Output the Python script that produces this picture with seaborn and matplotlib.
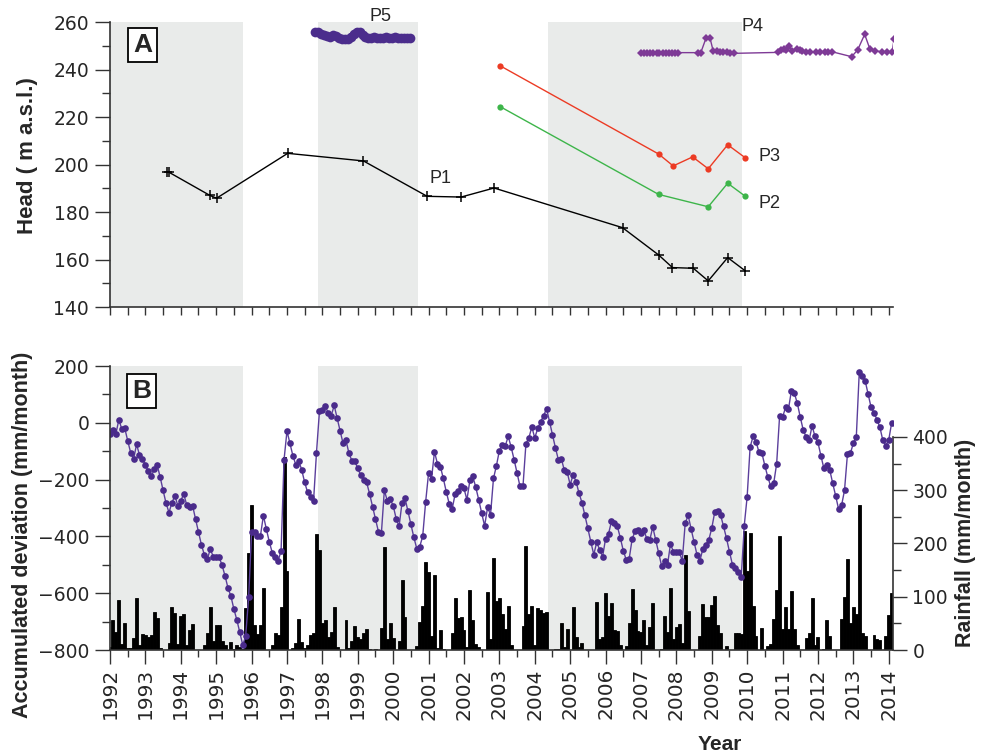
import numpy as np
import pandas as pd
import matplotlib
matplotlib.use("Agg")
import matplotlib.pyplot as plt
import seaborn as sns
from matplotlib.ticker import MultipleLocator, FixedLocator

sns.set_theme(style="white")
plt.rcParams['font.family'] = ['Liberation Sans', 'DejaVu Sans']

# ---------------- data ----------------
dry_periods = [(1992.0, 1995.76), (1997.88, 2000.70), (2004.37, 2009.85)]

p1_year = [1993.60, 1993.67, 1994.82, 1995.01, 1997.02, 1999.16, 2000.96, 2001.92,
           2002.85, 2006.48, 2007.50, 2007.89, 2008.48, 2008.90, 2009.45, 2009.94]
p1_head = [196.7, 196.7, 187.0, 185.8, 204.7, 201.5, 186.6, 186.3,
           190.1, 173.4, 161.9, 156.6, 156.3, 151.0, 160.8, 155.3]

p2_year = [2003.03, 2007.50, 2008.90, 2009.45, 2009.94]
p2_head = [224.3, 187.4, 182.2, 192.1, 186.7]

p3_year = [2003.03, 2007.50, 2007.91, 2008.46, 2008.90, 2009.45, 2009.94]
p3_head = [241.5, 204.4, 199.4, 203.2, 198.2, 208.3, 202.9]

p4_year = [2007.00, 2007.09, 2007.17, 2007.26, 2007.35, 2007.44, 2007.52, 2007.61,
           2007.70, 2007.79, 2007.87, 2007.96, 2008.05, 2008.62, 2008.69, 2008.84,
           2008.95, 2009.04, 2009.14, 2009.23, 2009.32, 2009.42, 2009.51, 2009.63,
           2010.86, 2010.97, 2011.04, 2011.11, 2011.19, 2011.27, 2011.42, 2011.49,
           2011.56, 2011.66, 2011.77, 2011.94, 2012.06, 2012.20, 2012.29, 2012.39,
           2012.95, 2013.12, 2013.32, 2013.47, 2013.61, 2013.80, 2013.96, 2014.10,
           2014.15]
p4_head = [247.1, 247.1, 247.1, 247.1, 247.1, 247.1, 247.1, 247.1,
           247.1, 247.1, 247.1, 247.1, 247.1, 247.1, 247.1, 253.3,
           253.3, 247.8, 247.8, 247.5, 247.2, 247.2, 247.1, 246.8,
           247.2, 248.2, 248.5, 248.2, 249.9, 247.8, 248.8, 248.2,
           247.8, 247.5, 247.5, 247.5, 247.5, 247.5, 247.5, 247.5,
           245.4, 248.2, 254.8, 248.5, 247.8, 247.5, 247.5, 247.5,
           252.8]

p5_head = [255.8, 255.6, 255.0, 254.4, 254.0, 253.8, 254.4, 254.2, 253.4, 253.0,
           252.8, 252.8, 253.8, 255.0, 256.0, 255.8, 254.4, 253.6, 253.4, 253.3,
           253.5, 253.4, 253.2, 253.4, 253.5, 253.3, 253.4, 253.5, 253.3, 253.4,
           253.3, 253.4, 253.4]
p5_start = 1997.80

acc_start = 1992.0
acc_dev = [-39, -27, -39, 11, -22, -19, -63, -105, -128, -76,
           -113, -128, -148, -171, -189, -163, -149, -191, -238, -283,
           -316, -281, -257, -292, -274, -251, -289, -295, -292, -339,
           -384, -430, -465, -480, -445, -471, -471, -473, -502, -539,
           -582, -611, -656, -694, -738, -782, -750, -614, -386, -385,
           -398, -398, -327, -374, -419, -457, -471, -486, -451, -130,
           -29, -72, -116, -148, -135, -166, -210, -245, -262, -276,
           -105, 40, 46, 58, 34, 25, 61, 16, -28, -72,
           -62, -107, -134, -136, -160, -185, -201, -210, -250, -295,
           -339, -383, -389, -238, -274, -269, -292, -337, -365, -281,
           -265, -311, -357, -403, -443, -436, -400, -279, -177, -197,
           -102, -144, -154, -196, -243, -285, -303, -251, -239, -224,
           -231, -271, -203, -189, -227, -271, -318, -363, -298, -324,
           -196, -151, -98, -79, -81, -48, -86, -130, -177, -224,
           -224, -74, -53, -15, -53, -20, 4, 25, 50, 4,
           -43, -88, -130, -127, -166, -174, -218, -183, -207, -248,
           -281, -326, -372, -419, -464, -421, -447, -471, -408, -391,
           -347, -353, -365, -405, -450, -482, -479, -410, -381, -377,
           -389, -377, -410, -412, -367, -413, -459, -504, -487, -500,
           -427, -454, -455, -455, -486, -353, -326, -374, -419, -465,
           -485, -443, -430, -412, -371, -315, -312, -325, -365, -407,
           -454, -499, -513, -525, -543, -363, -260, -86, -48, -66,
           -103, -107, -151, -191, -224, -213, -144, 25, 19, 54,
           48, 113, 104, 69, 20, -25, -50, -62, -11, -48,
           -69, -116, -160, -148, -166, -213, -257, -304, -291, -238,
           -110, -107, -72, -50, 178, 166, 148, 101, 55, 36,
           11, -16, -62, -80, -60, 1]

rainfall = [6, 56, 34, 93, 12, 51, 3, 4, 22, 98,
            9, 30, 28, 25, 28, 71, 60, 3, 0, 0,
            14, 81, 69, 11, 64, 67, 9, 37, 49, 0,
            0, 0, 9, 32, 81, 17, 46, 46, 17, 9,
            0, 15, 1, 9, 6, 1, 78, 182, 272, 47,
            30, 46, 116, 0, 0, 9, 32, 28, 81, 363,
            148, 0, 3, 14, 59, 15, 3, 9, 29, 32,
            217, 188, 51, 57, 24, 34, 81, 6, 0, 0,
            56, 4, 16, 45, 24, 21, 31, 39, 2, 0,
            2, 0, 41, 194, 21, 50, 22, 0, 17, 131,
            61, 0, 0, 0, 7, 53, 82, 166, 146, 26,
            140, 3, 37, 2, 0, 0, 31, 97, 60, 61,
            37, 5, 112, 57, 11, 6, 0, 0, 108, 21,
            172, 92, 97, 67, 40, 82, 9,
            0, 0, 0, 45, 195, 67, 82, 9, 79, 75,
            70, 71, 0, 0, 1, 2, 51, 6, 39, 0,
            81, 24, 6, 14, 0, 0, 0, 0, 90, 20,
            24, 107, 64, 88, 37, 36, 9, 0, 7, 50,
            115, 75, 36, 33, 56, 9, 44, 88, 0, 0,
            1, 64, 34, 117, 20, 44, 49, 14, 178, 73,
            0, 0, 0, 26, 87, 61, 62, 85, 102, 47,
            31, 0, 7, 0, 0, 31, 32, 30, 224, 149,
            219, 82, 27, 0, 41, 0, 7, 12, 59, 112,
            214, 40, 81, 40, 110, 39, 9, 0, 0, 22,
            31, 98, 9, 24, 0, 2, 57, 26, 0, 0,
            0, 59, 99, 171, 51, 80, 67, 273, 32, 27,
            0, 0, 28, 21, 19, 0, 27, 66, 107]

year_ticks = list(range(1992, 2015))
head_ticks = [140, 160, 180, 200, 220, 240, 260]
dev_ticks = [-800, -600, -400, -200, 0, 200]
rain_ticks = [0, 100, 200, 300, 400]

# ---------------- frames ----------------
months = acc_start + np.arange(len(acc_dev)) / 12.0
df_b = pd.DataFrame({"year": np.round(months, 4), "dev": acc_dev, "rain": rainfall})
p5_year = p5_start + np.arange(len(p5_head)) / 12.0

# ---------------- figure ----------------
fig = plt.figure(figsize=(9.83, 7.53), dpi=100)
axA = fig.add_axes([110 / 983, 1 - 307 / 753, 783 / 983, 285 / 753])
axB = fig.add_axes([110 / 983, 1 - 650 / 753, 783 / 983, 284 / 753])
axR = axB.twinx()

XMIN, XMAX = 1992.0, 2014.12
shade = "#e9ebea"
spine_c = "#333333"
tick_font = "DejaVu Sans"

# --- panel A ---
for a, b in dry_periods:
    axA.axvspan(a, b, color=shade, lw=0, zorder=0)

sns.lineplot(x=p1_year, y=p1_head, ax=axA, color="black", lw=1.0, marker="+",
             markersize=7.5, markeredgewidth=1.1, markeredgecolor="black", estimator=None, sort=False)
sns.lineplot(x=p2_year, y=p2_head, ax=axA, color="#3db54a", lw=1.0, marker="o",
             markersize=4.5, markeredgewidth=0, estimator=None, sort=False)
sns.lineplot(x=p3_year, y=p3_head, ax=axA, color="#ec3b24", lw=1.0, marker="o",
             markersize=4.5, markeredgewidth=0, estimator=None, sort=False)
sns.lineplot(x=p4_year, y=p4_head, ax=axA, color="#7e3a96", lw=1.0, marker="D",
             markersize=3.6, markeredgewidth=0, estimator=None, sort=False)
sns.lineplot(x=p5_year, y=p5_head, ax=axA, color="#4b2d8c", lw=4.5, marker="o",
             markersize=7, markeredgewidth=0, estimator=None, sort=False)

axA.set_xlim(XMIN, XMAX)
axA.set_ylim(140, 260)
axA.set_yticks(head_ticks)
axA.yaxis.set_minor_locator(MultipleLocator(10))
axA.set_xticks(year_ticks)
axA.xaxis.set_minor_locator(MultipleLocator(0.5))
axA.set_xticklabels([])
axA.tick_params(axis="y", which="major", direction="out", length=11, width=1, color=spine_c,
                labelsize=13.5, labelfontfamily=tick_font, pad=4, left=True)
axA.tick_params(axis="y", which="minor", direction="out", length=6, width=1, color=spine_c, left=True)
axA.tick_params(axis="x", which="both", direction="out", length=6, width=1, color=spine_c, bottom=True)
for s in ["top", "right"]:
    axA.spines[s].set_visible(False)
for s in ["left", "bottom"]:
    axA.spines[s].set_color(spine_c)
    axA.spines[s].set_linewidth(1.2)
axA.set_ylabel("Head ( m a.s.l.)", fontsize=16, fontweight="bold")
axA.yaxis.set_label_coords(-0.092, 0.533)
axA.set_xlabel("")

lab_kw = dict(fontsize=13, ha="center", va="center", clip_on=False)
axA.text(1999.63, 262.3, "P5", **lab_kw)
axA.text(2010.14, 257.9, "P4", **lab_kw)
axA.text(2010.62, 203.3, "P3", **lab_kw)
axA.text(2010.62, 183.7, "P2", **lab_kw)
axA.text(2001.34, 193.9, "P1", **lab_kw)
axA.text(0.0415, 0.919, "A", transform=axA.transAxes, fontsize=19, fontweight="bold",
         ha="center", va="center",
         bbox=dict(boxstyle="square,pad=0.18", fc="white", ec="black", lw=1.3))

# --- panel B ---
for a, b in dry_periods:
    axR.axvspan(a, b, color=shade, lw=0, zorder=0)
sns.barplot(data=df_b, x="year", y="rain", native_scale=True, color="black", width=1.0,
            errorbar=None, linewidth=0.6, edgecolor="black", saturation=1, ax=axR, zorder=2)
axB.set_zorder(axR.get_zorder() + 1)
axB.patch.set_visible(False)
sns.lineplot(data=df_b, x="year", y="dev", ax=axB, color="#5b3f9c", lw=1.0, marker="o",
             markersize=4.8, markeredgewidth=0, markerfacecolor="#4a2b8b", estimator=None, sort=False)

axB.set_xlim(XMIN, XMAX)
axR.set_xlim(XMIN, XMAX)
axB.set_ylim(-800, 200)
axB.set_yticks(dev_ticks)
axB.yaxis.set_minor_locator(MultipleLocator(100))
axB.set_xticks(year_ticks)
axB.set_xticklabels([str(y) for y in year_ticks], rotation=90)
axB.xaxis.set_minor_locator(MultipleLocator(0.5))
axB.tick_params(axis="y", which="major", direction="out", length=11, width=1, color=spine_c,
                labelsize=13.5, labelfontfamily=tick_font, pad=4, left=True)
axB.tick_params(axis="y", which="minor", direction="out", length=6, width=1, color=spine_c, left=True)
axB.tick_params(axis="x", which="major", direction="out", length=10, width=1, color=spine_c,
                labelsize=14.5, labelfontfamily=tick_font, pad=3, bottom=True)
axB.tick_params(axis="x", which="minor", direction="out", length=5, width=1, color=spine_c, bottom=True)
for s in ["top", "right"]:
    axB.spines[s].set_visible(False)
for s in ["left", "bottom"]:
    axB.spines[s].set_color(spine_c)
    axB.spines[s].set_linewidth(1.2)
axB.set_ylabel("Accumulated deviation (mm/month)", fontsize=15.5, fontweight="bold")
axB.yaxis.set_label_coords(-0.098, 0.405)
axB.set_xlabel("")

axR.set_ylim(0, 533)
axR.set_yticks(rain_ticks)
axR.yaxis.set_minor_locator(FixedLocator([50, 150, 250, 350]))
axR.tick_params(axis="y", which="major", direction="out", length=10, width=1, color=spine_c,
                labelsize=13.5, labelfontfamily=tick_font, pad=4, right=True)
axR.tick_params(axis="y", which="minor", direction="out", length=6, width=1, color=spine_c, right=True)
axR.grid(False)
for s in ["top", "left", "bottom"]:
    axR.spines[s].set_visible(False)
axR.spines["right"].set_bounds(0, 400)
axR.spines["right"].set_color(spine_c)
axR.spines["right"].set_linewidth(1.2)
axR.set_ylabel("Rainfall (mm/month)", fontsize=15.5, fontweight="bold")
axR.yaxis.set_label_coords(1.079, 0.377)
axR.set_xlabel("")

axB.text(0.040, 0.912, "B", transform=axB.transAxes, fontsize=19, fontweight="bold",
         ha="center", va="center",
         bbox=dict(boxstyle="square,pad=0.18", fc="white", ec="black", lw=1.3))

fig.text(720 / 983, 1 - 744 / 753, "Year", fontsize=15, fontweight="bold", ha="center", va="center")

fig.savefig("out.png", dpi=100)
